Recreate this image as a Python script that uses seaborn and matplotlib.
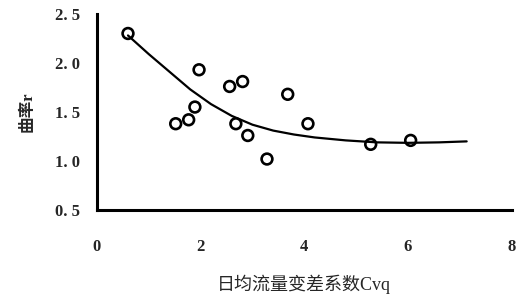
import matplotlib
matplotlib.use("Agg")
import matplotlib.pyplot as plt
import numpy as np
import pandas as pd
import seaborn as sns

# observed points: Cvq vs curvature r
cvq = [0.60, 1.52, 1.77, 1.89, 1.97, 2.56, 2.81, 2.68, 2.91, 3.28, 3.68, 4.07, 5.28, 6.05]
curv = [2.30, 1.38, 1.42, 1.55, 1.93, 1.76, 1.81, 1.38, 1.26, 1.02, 1.68, 1.38, 1.17, 1.21]

# trend curve
curve_x = [0.60, 1.00, 1.40, 1.80, 2.20, 2.60, 3.00, 3.40, 3.80, 4.20, 4.80, 5.40, 6.00, 6.60, 7.13]
curve_y = [2.28, 2.09, 1.91, 1.73, 1.58, 1.46, 1.37, 1.31, 1.27, 1.24, 1.21, 1.19, 1.185, 1.19, 1.20]

xticks = [0, 2, 4, 6, 8]
yticks = [0.5, 1.0, 1.5, 2.0, 2.5]
ytick_labels = ["0. 5", "1. 0", "1. 5", "2. 0", "2. 5"]

sns.set_style("white")
plt.rcParams['font.family'] = ['Liberation Serif', 'Noto Sans CJK SC', 'DejaVu Sans']

pts = pd.DataFrame({"cvq": cvq, "r": curv})
trend = pd.DataFrame({"x": curve_x, "y": curve_y})

fig = plt.figure(figsize=(5.18, 2.95), dpi=100)
ax = fig.add_axes([0.187, 0.288, 0.801, 0.665])

sns.lineplot(data=trend, x="x", y="y", sort=False, color="black", linewidth=1.6, ax=ax)
sns.scatterplot(data=pts, x="cvq", y="r", marker="o", s=60, facecolor="none",
                edgecolor="black", linewidth=1.9, ax=ax, zorder=3)

ax.set_xlim(0, 8)
ax.set_ylim(0.5, 2.5)
ax.set_xticks(xticks)
ax.set_xticklabels([str(t) for t in xticks], fontsize=12, fontweight="bold")
ax.set_yticks(yticks)
ax.set_yticklabels(ytick_labels, fontsize=12, fontweight="bold")
ax.tick_params(axis="x", direction="in", length=3, width=2, pad=21)
ax.tick_params(axis="y", direction="in", length=3, width=2, pad=12)

for side in ["top", "right"]:
    ax.spines[side].set_visible(False)
for side in ["left", "bottom"]:
    ax.spines[side].set_linewidth(2.2)
    ax.spines[side].set_color("black")

ax.set_xlabel("日均流量变差系数Cvq", fontsize=13,
              family=['Liberation Serif', 'Noto Sans CJK SC', 'DejaVu Sans'], labelpad=14)
ax.set_ylabel("曲率r", fontsize=12, fontweight="bold",
              family=['Liberation Serif', 'Noto Sans CJK SC', 'DejaVu Sans'], labelpad=14)

fig.savefig("out.png", dpi=100)
